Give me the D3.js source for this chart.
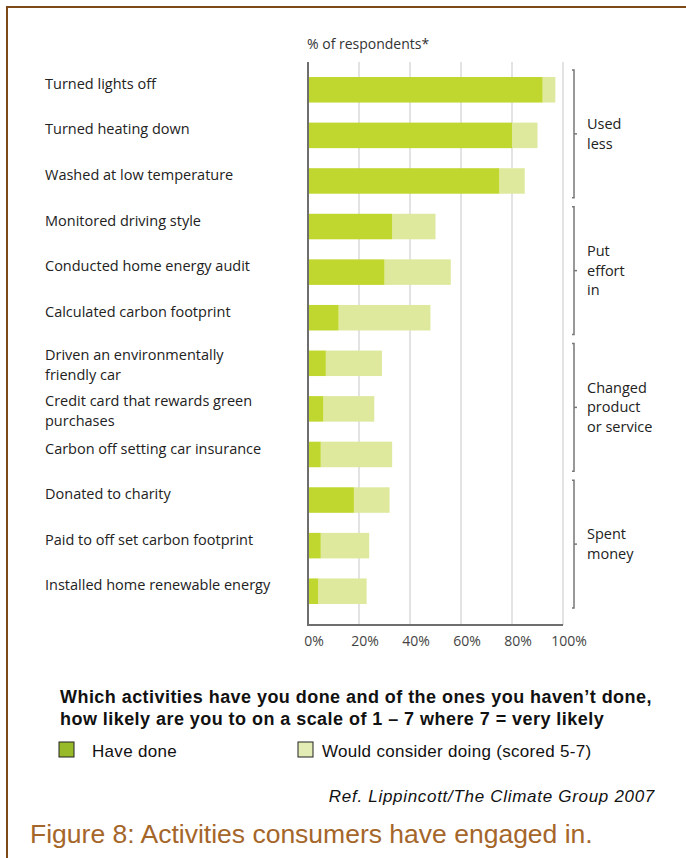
<!DOCTYPE html>
<html>
<head>
<meta charset="utf-8">
<script src="https://cdn.jsdelivr.net/npm/d3@7"></script>
<style>
  body { margin: 0; background: #fff; }
  #viz { width: 686px; height: 858px; }
</style>
</head>
<body>
<div id="viz"></div>
<script>
// activities, top to bottom (line breaks where the label wraps)
const activities = [
  ["Turned lights off"],
  ["Turned heating down"],
  ["Washed at low temperature"],
  ["Monitored driving style"],
  ["Conducted home energy audit"],
  ["Calculated carbon footprint"],
  ["Driven an environmentally", "friendly car"],
  ["Credit card that rewards green", "purchases"],
  ["Carbon off setting car insurance"],
  ["Donated to charity"],
  ["Paid to off set carbon footprint"],
  ["Installed home renewable energy"]
]

// % of respondents
const haveDone = [92, 80, 75, 33, 30, 12, 7, 6, 5, 18, 5, 4]
const wouldConsider = [5, 10, 10, 17, 26, 36, 22, 20, 28, 14, 19, 19]

// bracket groups on the right: first row, last row
const groupLabels = [["Used", "less"], ["Put", "effort", "in"], ["Changed", "product", "or service"], ["Spent", "money"]]
const groupStart = [0, 3, 6, 9]
const groupEnd = [2, 5, 8, 11]

const xTicks = [0, 20, 40, 60, 80, 100]

const width = 686
const height = 858

const darkGreen = "#c0d72f"
const lightGreen = "#dfe99e"

const svg = d3.select("#viz")
  .append("svg")
  .attr("width", width)
  .attr("height", height)

// frame
svg.append("line").attr("x1", 7).attr("x2", width).attr("y1", 7).attr("y2", 7)
  .attr("stroke", "#7b4a16").attr("stroke-width", 2)
svg.append("line").attr("x1", 7).attr("x2", 7).attr("y1", 6).attr("y2", height)
  .attr("stroke", "#7b4a16").attr("stroke-width", 2)

const xScale = d3.scaleLinear().domain([0, 100]).range([308, 563])
const yScale = d3.scaleBand()
  .domain(d3.range(activities.length))
  .range([67, 614])
  .paddingInner(0.44)
  .paddingOuter(0.22)

const labelFont = "'Open Sans', 'Noto Sans', sans-serif"
const lineGap = 19.75

svg.append("text")
  .attr("x", 307).attr("y", 49)
  .attr("font-family", labelFont).attr("font-size", 14)
  .attr("fill", "#333")
  .text("% of respondents*")

// gridlines
svg.append("g")
  .selectAll("line")
  .data(xTicks.slice(1))
  .join("line")
  .attr("x1", d => xScale(d)).attr("x2", d => xScale(d))
  .attr("y1", 62).attr("y2", 625)
  .attr("stroke", "#d0d0d0").attr("stroke-width", 1.2)

// stacked bars
const rows = activities.map((a, i) => ({ i: i, done: haveDone[i], consider: wouldConsider[i] }))

svg.append("g")
  .selectAll("rect")
  .data(rows)
  .join("rect")
  .attr("x", d => xScale(d.done))
  .attr("y", d => yScale(d.i))
  .attr("width", d => xScale(d.done + d.consider) - xScale(d.done))
  .attr("height", yScale.bandwidth())
  .attr("fill", lightGreen)

svg.append("g")
  .selectAll("rect")
  .data(rows)
  .join("rect")
  .attr("x", xScale(0))
  .attr("y", d => yScale(d.i))
  .attr("width", d => xScale(d.done) - xScale(0))
  .attr("height", yScale.bandwidth())
  .attr("fill", darkGreen)

// axes lines
svg.append("line").attr("x1", 308).attr("x2", 308).attr("y1", 62).attr("y2", 626)
  .attr("stroke", "#6e6e6e").attr("stroke-width", 2)
svg.append("line").attr("x1", 307).attr("x2", xScale(100)).attr("y1", 625).attr("y2", 625)
  .attr("stroke", "#6e6e6e").attr("stroke-width", 2)

svg.append("g")
  .selectAll("text")
  .data(xTicks)
  .join("text")
  .attr("x", d => xScale(d) + 6)
  .attr("y", 646)
  .attr("text-anchor", "middle")
  .attr("font-family", labelFont).attr("font-size", 14)
  .attr("fill", "#444")
  .text(d => d + "%")

// category labels
const catLabels = svg.append("g")
  .selectAll("text")
  .data(activities)
  .join("text")
  .attr("x", 45)
  .attr("y", (d, i) => yScale(i) + yScale.bandwidth() / 2 - (d.length > 1 ? 8 : 6))
  .attr("font-family", labelFont).attr("font-size", 14.5)
  .attr("fill", "#222")

catLabels.selectAll("tspan")
  .data(d => d)
  .join("tspan")
  .attr("x", 45)
  .attr("dy", (d, i) => i === 0 ? "0.35em" : lineGap)
  .text(d => d)

// brackets
const step = yScale.step()
groupLabels.forEach((lab, g) => {
  const top = 67 + step * groupStart[g] + 3
  const bottom = 67 + step * (groupEnd[g] + 1) - 6
  const mid = (top + bottom) / 2
  const bx = 574
  const br = svg.append("g").attr("stroke", "#777").attr("stroke-width", 1.5).attr("fill", "none")
  br.append("path").attr("d", `M${bx - 2},${top} H${bx} V${bottom} H${bx - 2}`)
  br.append("line").attr("x1", bx).attr("x2", bx + 3).attr("y1", mid).attr("y2", mid)

  const t = svg.append("text")
    .attr("x", 587)
    .attr("y", mid - (lab.length - 1) * lineGap / 2)
    .attr("font-family", labelFont).attr("font-size", 14.5)
    .attr("fill", "#222")
  t.selectAll("tspan")
    .data(lab)
    .join("tspan")
    .attr("x", 587)
    .attr("dy", (d, i) => i === 0 ? "0.35em" : lineGap)
    .text(d => d)
})

// question and legend
const noteFont = "'Liberation Sans', Arial, sans-serif"
svg.append("text")
  .attr("x", 60).attr("y", 703)
  .attr("font-family", noteFont).attr("font-size", 18).attr("font-weight", "bold")
  .attr("letter-spacing", 0.45)
  .attr("fill", "#111")
  .text("Which activities have you done and of the ones you haven\u2019t done,")
svg.append("text")
  .attr("x", 60).attr("y", 725)
  .attr("font-family", noteFont).attr("font-size", 18).attr("font-weight", "bold")
  .attr("letter-spacing", 0.45)
  .attr("fill", "#111")
  .text("how likely are you to on a scale of 1 \u2013 7 where 7 = very likely")

const legendItems = [
  { label: "Have done", color: "#98b928", x: 59 },
  { label: "Would consider doing (scored 5-7)", color: "#e2ecb4", x: 298 }
]
const leg = svg.append("g")
  .selectAll("g")
  .data(legendItems)
  .join("g")
leg.append("rect")
  .attr("x", d => d.x).attr("y", 742)
  .attr("width", 15).attr("height", 15)
  .attr("fill", d => d.color)
  .attr("stroke", "#222").attr("stroke-width", 1)
leg.append("text")
  .attr("x", (d, i) => i === 0 ? d.x + 33 : d.x + 24)
  .attr("y", 757)
  .attr("font-family", noteFont).attr("font-size", 17)
  .attr("letter-spacing", 0.3)
  .attr("fill", "#111")
  .text(d => d.label)

svg.append("text")
  .attr("x", 655).attr("y", 802)
  .attr("text-anchor", "end")
  .attr("font-family", noteFont).attr("font-size", 17).attr("font-style", "italic")
  .attr("letter-spacing", 0.7)
  .attr("fill", "#111")
  .text("Ref. Lippincott/The Climate Group 2007")

svg.append("text")
  .attr("x", 30).attr("y", 843)
  .attr("font-family", noteFont).attr("font-size", 26.5)
  .attr("fill", "#a5662a")
  .text("Figure 8: Activities consumers have engaged in.")
</script>
</body>
</html>
